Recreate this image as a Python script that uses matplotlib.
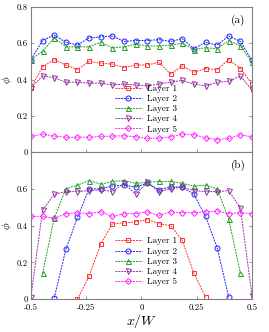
import numpy as np
import matplotlib
matplotlib.use("Agg")
import matplotlib.pyplot as plt

plt.rcParams['font.family'] = 'serif'
plt.rcParams['font.serif'] = ['cmr10', 'DejaVu Serif']
plt.rcParams['mathtext.fontset'] = 'cm'
plt.rcParams['axes.unicode_minus'] = False

# x positions (20 columns across the channel)
x = np.linspace(-0.5, 0.5, 20)

# panel (a)
a_layer1 = [0.355, 0.47, 0.51, 0.48, 0.455, 0.50, 0.49, 0.485, 0.465, 0.48,
            0.48, 0.495, 0.43, 0.475, 0.44, 0.46, 0.455, 0.51, 0.46, 0.375]
a_layer2 = [0.51, 0.615, 0.645, 0.605, 0.59, 0.63, 0.635, 0.64, 0.61, 0.615,
            0.615, 0.62, 0.61, 0.625, 0.57, 0.605, 0.59, 0.64, 0.61, 0.505]
a_layer3 = [0.51, 0.555, 0.63, 0.58, 0.58, 0.58, 0.605, 0.575, 0.58, 0.595,
            0.585, 0.585, 0.59, 0.60, 0.565, 0.575, 0.57, 0.615, 0.585, 0.495]
a_layer4 = [0.355, 0.42, 0.41, 0.385, 0.385, 0.38, 0.38, 0.37, 0.375, 0.37,
            0.365, 0.375, 0.385, 0.395, 0.375, 0.365, 0.385, 0.39, 0.42, 0.34]
a_layer5 = [0.086, 0.099, 0.088, 0.081, 0.082, 0.082, 0.086, 0.088, 0.09, 0.084,
            0.075, 0.077, 0.084, 0.099, 0.095, 0.079, 0.068, 0.075, 0.095, 0.084]

# panel (b), NaN where the layer has no grains
n = np.nan
b_layer1 = [n, n, n, n, 0.0, 0.125, 0.30, 0.41, 0.415, 0.42,
            0.433, 0.41, 0.40, 0.32, 0.14, 0.013, n, n, n, n]
b_layer2 = [n, n, 0.007, 0.27, 0.445, 0.60, 0.60, 0.615, 0.62, 0.61,
            0.63, 0.595, 0.61, 0.61, 0.57, 0.45, 0.28, 0.01, n, n]
b_layer3 = [n, 0.14, 0.44, 0.60, 0.62, 0.645, 0.625, 0.64, 0.645, 0.63,
            0.635, 0.64, 0.64, 0.63, 0.615, 0.62, 0.60, 0.435, 0.14, n]
b_layer4 = [0.013, 0.485, 0.57, 0.585, 0.585, 0.59, 0.595, 0.585, 0.63, 0.57,
            0.635, 0.585, 0.60, 0.61, 0.59, 0.585, 0.585, 0.59, 0.495, 0.015]
b_layer5 = [0.45, 0.45, 0.44, 0.465, 0.47, 0.465, 0.475, 0.45, 0.465, 0.465,
            0.475, 0.455, 0.475, 0.47, 0.47, 0.475, 0.48, 0.465, 0.47, 0.465]

labels = ['Layer 1', 'Layer 2', 'Layer 3', 'Layer 4', 'Layer 5']
colors = ['#ff3030', '#2020ff', '#20a020', '#9330a0', '#ff20ff']
markers = ['s', 'o', '^', 'v', 'D']
msizes = [3.0, 3.6, 3.6, 3.6, 3.0]

fig = plt.figure(figsize=(2.69, 3.32), dpi=100)
ax1 = fig.add_axes([0.115, 0.542, 0.822, 0.437])
ax2 = fig.add_axes([0.115, 0.099, 0.822, 0.443])

spine_col = '#808080'


def draw(ax, series, panel):
    for ys, lab, c, m, ms in zip(series, labels, colors, markers, msizes):
        ax.plot(x, ys, color=c, ls=(0, (2, 1)), lw=0.7, marker=m, ms=ms,
                mfc='none', mec=c, mew=0.7, label=lab)
    ax.set_xlim(-0.5, 0.5)
    ax.set_ylim(0, 0.8)
    for s in ax.spines.values():
        s.set_color(spine_col)
        s.set_linewidth(0.8)
    ax.tick_params(direction='in', length=2.5, width=0.6, color=spine_col,
                   labelsize=6.3, pad=2, right=True)
    ax.tick_params(axis='x', pad=3.5)
    ax.set_xticks([-0.5, -0.25, 0, 0.25, 0.5])
    ax.set_ylabel(r'$\phi$', fontsize=8, labelpad=2)
    ax.text(0.97, 0.95, panel, transform=ax.transAxes, ha='right', va='top',
            fontsize=8)
    leg = ax.legend(loc='upper left', frameon=False, fontsize=6.5,
                    handlelength=3.0, handletextpad=0.6, labelspacing=0.2,
                    borderpad=0.2)
    return leg


draw(ax1, [a_layer1, a_layer2, a_layer3, a_layer4, a_layer5], '(a)')
ax1.get_legend().set_bbox_to_anchor((0.35, 0.51))
ax1.set_yticks([0, 0.2, 0.4, 0.6, 0.8])
ax1.set_yticklabels(['0', '0.2', '0.4', '0.6', '0.8'])
ax1.set_xticklabels([])

draw(ax2, [b_layer1, b_layer2, b_layer3, b_layer4, b_layer5], '(b)')
ax2.get_legend().set_bbox_to_anchor((0.35, 0.465))
ax2.set_yticks([0, 0.2, 0.4, 0.6])
ax2.set_yticklabels(['0', '0.2', '0.4', '0.6'])
ax2.set_xticklabels(['-0.5', '-0.25', '0', '0.25', '0.5'])
ax2.set_xlabel(r'$x/W$', fontsize=10, labelpad=0)

fig.savefig('out.png', dpi=100)
